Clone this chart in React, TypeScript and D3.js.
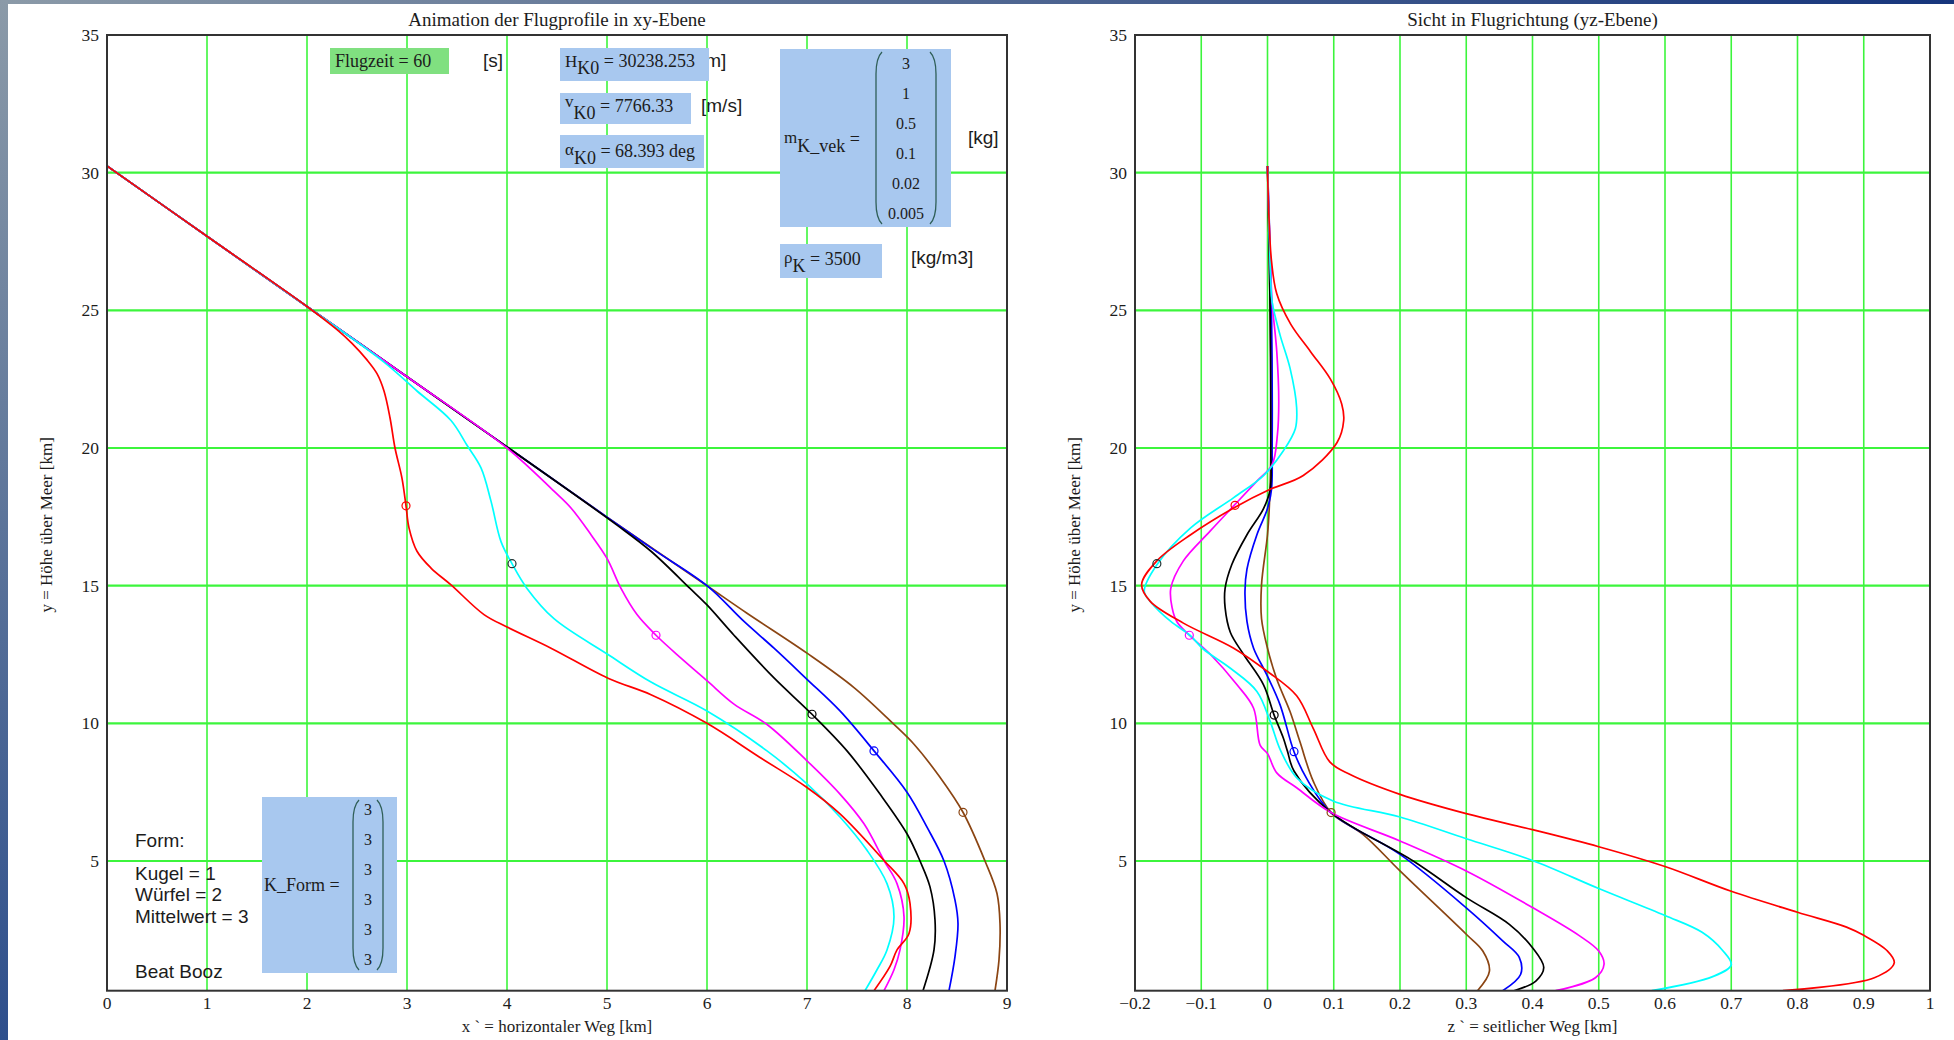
import * as d3 from 'd3'

const W = 1954
const H = 1040

// x-Achse (horizontaler Weg) und z-Achse (seitlicher Weg), Höhe y
const xTicks = [0, 1, 2, 3, 4, 5, 6, 7, 8, 9]
const zTicks = [-0.2, -0.1, 0, 0.1, 0.2, 0.3, 0.4, 0.5, 0.6, 0.7, 0.8, 0.9, 1]
const yTicks = [5, 10, 15, 20, 25, 30, 35]
const yMin = 0.29

// Eingabewerte
const flugzeit = 60
const hK0 = '30238.253'
const vK0 = '7766.33'
const alphaK0 = '68.393 deg'
const rhoK = 3500
const mKvek = ['3', '1', '0.5', '0.1', '0.02', '0.005']
const kForm = ['3', '3', '3', '3', '3', '3']

// Flugprofile xy-Ebene [km]
const redXY = [[0, 30.24], [1, 27.69], [2, 25.14], [2.3, 24.3], [2.45, 23.8], [2.6, 23.2], [2.7, 22.7], [2.77, 22.07], [2.83, 21.1], [2.88, 20.0], [2.95, 18.9], [2.99, 17.9], [3.02, 17.1], [3.1, 16.25], [3.24, 15.64], [3.44, 15.03], [3.77, 13.95], [4.0, 13.5], [4.44, 12.73], [5.01, 11.64], [5.44, 11.04], [6.0, 10.0], [6.53, 8.76], [7.0, 7.67], [7.33, 6.71], [7.77, 5.02], [7.97, 4.18], [8.03, 3.46], [8.02, 2.37], [7.9, 1.77], [7.83, 1.17], [7.67, 0.29]]
const cyanXY = [[0, 30.24], [1, 27.69], [2, 25.14], [2.77, 23.12], [3.1, 22.07], [3.44, 21.0], [3.6, 20.1], [3.74, 19.28], [3.84, 18.07], [3.94, 16.6], [4.05, 15.8], [4.2, 14.9], [4.47, 13.8], [5.01, 12.5], [5.44, 11.5], [6.0, 10.45], [6.6, 9.0], [7.0, 7.8], [7.33, 6.6], [7.6, 5.39], [7.8, 4.18], [7.87, 2.98], [7.8, 1.77], [7.7, 1.05], [7.58, 0.29]]
const magentaXY = [[0, 30.24], [1, 27.69], [2, 25.14], [3, 22.59], [4, 20.0], [4.47, 18.43], [4.64, 17.82], [4.84, 16.85], [5.0, 15.99], [5.14, 14.9], [5.3, 13.95], [5.49, 13.2], [5.74, 12.37], [6.0, 11.55], [6.27, 10.7], [6.6, 9.96], [7.0, 8.64], [7.33, 7.43], [7.57, 6.35], [7.77, 5.02], [7.9, 4.18], [7.97, 2.98], [7.93, 1.77], [7.87, 1.05], [7.77, 0.29]]
const blackXY = [[0, 30.24], [1, 27.69], [2, 25.14], [3, 22.59], [4, 20.04], [5.1, 17.2], [5.44, 16.25], [5.83, 14.9], [6.0, 14.3], [6.27, 13.2], [6.67, 11.65], [7.05, 10.33], [7.4, 9.0], [7.73, 7.43], [8.0, 5.99], [8.13, 5.0], [8.23, 4.06], [8.28, 2.86], [8.27, 1.77], [8.16, 0.29]]
const blueXY = [[0, 30.24], [1, 27.69], [2, 25.14], [3, 22.59], [4, 20.04], [5, 17.49], [5.47, 16.3], [6.0, 15.0], [6.37, 13.7], [6.67, 12.73], [7.0, 11.6], [7.33, 10.45], [7.67, 9.0], [8.0, 7.5], [8.2, 6.23], [8.37, 5.0], [8.48, 3.58], [8.51, 2.73], [8.48, 1.53], [8.42, 0.29]]
const brownXY = [[0, 30.24], [1, 27.69], [2, 25.14], [3, 22.59], [4, 20.04], [5, 17.49], [6.0, 15.0], [6.4, 14.0], [7.0, 12.55], [7.47, 11.3], [7.87, 9.96], [8.07, 9.24], [8.33, 8.04], [8.56, 6.77], [8.78, 5.0], [8.9, 3.82], [8.93, 2.73], [8.92, 1.41], [8.88, 0.29]]

// Sicht in Flugrichtung, z gegen y [km]
const redZY = [[0.0, 30.24], [0.002, 28.5], [0.006, 26.8], [0.014, 25.6], [0.035, 24.5], [0.065, 23.5], [0.095, 22.5], [0.112, 21.6], [0.115, 21.0], [0.105, 20.2], [0.054, 19.0], [0.004, 18.5], [-0.049, 17.85], [-0.116, 16.85], [-0.167, 15.9], [-0.19, 15.04], [-0.177, 14.43], [-0.127, 13.64], [-0.051, 12.73], [-0.001, 11.9], [0.044, 11.0], [0.069, 9.82], [0.094, 8.6], [0.124, 8.15], [0.2, 7.42], [0.3, 6.72], [0.4, 6.14], [0.5, 5.52], [0.6, 4.8], [0.7, 3.9], [0.8, 3.14], [0.874, 2.6], [0.9, 2.3], [0.935, 1.75], [0.946, 1.3], [0.916, 0.76], [0.778, 0.29]]
const cyanZY = [[0.0, 30.24], [0.003, 27.5], [0.005, 26.0], [0.007, 25.3], [0.019, 24.1], [0.034, 22.9], [0.044, 21.46], [0.042, 20.7], [0.024, 19.9], [-0.006, 19.0], [-0.051, 18.2], [-0.116, 17.1], [-0.167, 15.76], [-0.186, 14.8], [-0.176, 14.4], [-0.146, 13.7], [-0.117, 13.2], [-0.097, 12.7], [-0.056, 12.0], [-0.016, 11.16], [0.004, 10.07], [0.02, 9.0], [0.045, 8.0], [0.099, 7.18], [0.2, 6.6], [0.3, 5.81], [0.4, 5.02], [0.5, 4.0], [0.6, 3.02], [0.656, 2.41], [0.687, 1.75], [0.7, 1.23], [0.672, 0.8], [0.58, 0.29]]
const magentaZY = [[0, 30.24], [0.004, 27], [0.007, 25.3], [0.014, 23.5], [0.017, 21.7], [0.015, 20.5], [0.007, 19.4], [-0.016, 18.8], [-0.049, 17.95], [-0.087, 16.97], [-0.127, 15.9], [-0.146, 14.9], [-0.144, 14.2], [-0.137, 13.7], [-0.118, 13.2], [-0.086, 12.5], [-0.046, 11.4], [-0.021, 10.55], [-0.011, 9.2], [0.0, 8.9], [0.014, 8.2], [0.044, 7.66], [0.096, 6.76], [0.2, 5.73], [0.3, 4.64], [0.4, 3.31], [0.47, 2.3], [0.5, 1.73], [0.508, 1.25], [0.495, 0.76], [0.435, 0.29]]
const blackZY = [[0, 30.24], [0.004, 25], [0.005, 20], [0.004, 18.5], [-0.006, 17.8], [-0.031, 16.85], [-0.054, 15.76], [-0.064, 14.9], [-0.064, 14.2], [-0.056, 13.3], [-0.036, 12.5], [-0.006, 11.4], [0.01, 10.3], [0.024, 9.46], [0.03, 9.0], [0.04, 8.27], [0.096, 6.76], [0.22, 5.0], [0.3, 3.67], [0.365, 2.7], [0.4, 1.85], [0.417, 1.13], [0.405, 0.64], [0.372, 0.29]]
const blueZY = [[0, 30.24], [0.006, 25], [0.007, 20], [0.006, 18.5], [0.0, 17.8], [-0.016, 16.85], [-0.031, 15.6], [-0.034, 14.8], [-0.031, 13.7], [-0.021, 12.73], [-0.001, 11.76], [0.019, 10.67], [0.04, 8.97], [0.059, 8.0], [0.096, 6.76], [0.2, 5.24], [0.3, 3.3], [0.355, 2.1], [0.38, 1.5], [0.382, 0.88], [0.355, 0.29]]
const brownZY = [[0, 30.24], [0.004, 25], [0.005, 20], [0.003, 18], [0.0, 16.85], [-0.009, 15.04], [-0.009, 13.8], [0.0, 12.73], [0.014, 11.6], [0.034, 10.43], [0.049, 9.33], [0.069, 7.9], [0.096, 6.76], [0.144, 5.97], [0.2, 4.64], [0.3, 2.34], [0.325, 1.73], [0.335, 1.0], [0.317, 0.29]]

// aktuelle Position bei Flugzeit = 60 s
const markerXY = [[8.56, 6.77], [7.67, 9.0], [7.05, 10.33], [5.49, 13.2], [4.05, 15.8], [2.99, 17.9]]
const markerZY = [[0.096, 6.76], [0.04, 8.97], [0.01, 10.3], [-0.118, 13.2], [-0.167, 15.8], [-0.049, 17.92]]

const lineColors = ['#8b4513', '#0000ff', '#000000', '#ff00ff', '#00ffff', '#ff0000']
const markerColors = ['#8b4513', '#0000ff', '#000000', '#ff00ff', '#223333', '#ff0000']
const profilesXY = [brownXY, blueXY, blackXY, magentaXY, cyanXY, redXY]
const profilesZY = [brownZY, blueZY, blackZY, magentaZY, cyanZY, redZY]

const plotTop = 35
const plotBottom = 990.7
const gridColor = '#3cf53c'
const serif = '"Liberation Serif", "Times New Roman", serif'
const sans = '"Liberation Sans", Arial, sans-serif'
const textColor = '#1c1c1c'

const y = d3.scaleLinear().domain([yMin, 35]).range([plotBottom, plotTop])
const xL = d3.scaleLinear().domain([0, 9]).range([107, 1007])
const zR = d3.scaleLinear().domain([-0.2, 1]).range([1135, 1930])

function Plot({ id, xs, ticks, profiles, markers, title, xLabel, fmt }) {
  const [x0, x1] = xs.range()
  const line = d3.line().x(d => xs(d[0])).y(d => y(d[1])).curve(d3.curveCatmullRom.alpha(0.5))
  const mid = (x0 + x1) / 2
  return (
    <g>
      <clipPath id={id}>
        <rect x={x0} y={plotTop} width={x1 - x0} height={plotBottom - plotTop} />
      </clipPath>
      <rect x={x0} y={plotTop} width={x1 - x0} height={plotBottom - plotTop} fill="#fff" />
      {ticks.map(t => (
        <line key={'v' + t} x1={xs(t)} x2={xs(t)} y1={plotTop} y2={plotBottom} stroke={gridColor} strokeWidth={1.6} />
      ))}
      {yTicks.filter(t => t < 35).map(t => (
        <line key={'h' + t} x1={x0} x2={x1} y1={y(t)} y2={y(t)} stroke={gridColor} strokeWidth={2.2} />
      ))}
      <g clipPath={`url(#${id})`}>
        {profiles.map((p, i) => (
          <path key={i} d={line(p)} fill="none" stroke={lineColors[i]} strokeWidth={1.7} strokeLinejoin="round" />
        ))}
        {markers.map((m, i) => (
          <circle key={i} cx={xs(m[0])} cy={y(m[1])} r={4} fill="none" stroke={markerColors[i]} strokeWidth={1.2} />
        ))}
      </g>
      <rect x={x0} y={plotTop} width={x1 - x0} height={plotBottom - plotTop} fill="none" stroke="#333" strokeWidth={2} />
      {ticks.map(t => (
        <text key={'xl' + t} x={xs(t)} y={1009} textAnchor="middle" fontFamily={serif} fontSize={17.5} fill={textColor}>{fmt(t)}</text>
      ))}
      {yTicks.map(t => (
        <text key={'yl' + t} x={x0 - 8} y={y(t) + 6} textAnchor="end" fontFamily={serif} fontSize={17.5} fill={textColor}>{t}</text>
      ))}
      <text x={mid} y={26} textAnchor="middle" fontFamily={serif} fontSize={19} fill={textColor}>{title}</text>
      <text x={mid} y={1032} textAnchor="middle" fontFamily={serif} fontSize={17} fill={textColor}>{xLabel}</text>
      <text transform={`translate(${x0 - 55},${(plotTop + plotBottom) / 2 + 12}) rotate(-90)`} textAnchor="middle" fontFamily={serif} fontSize={17} fill={textColor}>y = Höhe über Meer [km]</text>
    </g>
  )
}

function Paren({ x, y1, y2, right }) {
  const s = right ? -1 : 1
  const d = `M ${x + 6 * s} ${y1} Q ${x} ${y1 + 6} ${x} ${y1 + 22} L ${x} ${y2 - 22} Q ${x} ${y2 - 6} ${x + 6 * s} ${y2}`
  return <path d={d} fill="none" stroke="#2f5f58" strokeWidth={1.3} />
}

function VarText({ x, base, main, sub, rest, mainDy }) {
  return (
    <text x={x} y={base + mainDy} fontFamily={serif} fill={textColor}>
      <tspan fontSize={17}>{main}</tspan>
      <tspan fontSize={18} dy={7 - mainDy}>{sub}</tspan>
      <tspan fontSize={18} dy={-7}>{rest}</tspan>
    </text>
  )
}

export default function App() {
  const fmtZ = t => (t === 0 ? '0' : t === 1 ? '1' : d3.format('.1f')(t))
  return (
    <svg width={W} height={H} style={{ position: 'absolute', left: 0, top: 0, display: 'block' }}>
      <defs>
        <linearGradient id="leftStrip" x1="0" y1="0" x2="0" y2="1">
          <stop offset="0" stopColor="#8b9aa8" />
          <stop offset="1" stopColor="#2e4f8c" />
        </linearGradient>
        <linearGradient id="topStrip" x1="0" y1="0" x2="1" y2="0">
          <stop offset="0" stopColor="#8b9aa8" />
          <stop offset="1" stopColor="#16357c" />
        </linearGradient>
      </defs>
      <rect width={W} height={H} fill="#fff" />
      <rect x={0} y={0} width={W} height={4} fill="url(#topStrip)" />
      <rect x={0} y={0} width={8} height={H} fill="url(#leftStrip)" />

      <Plot id="clipL" xs={xL} ticks={xTicks} profiles={profilesXY} markers={markerXY}
        title="Animation der Flugprofile in xy-Ebene" xLabel="x ` = horizontaler Weg [km]" fmt={t => String(t)} />
      <Plot id="clipR" xs={zR} ticks={zTicks} profiles={profilesZY} markers={markerZY}
        title="Sicht in Flugrichtung (yz-Ebene)" xLabel="z ` = seitlicher Weg [km]" fmt={fmtZ} />

      {/* Eingaben */}
      <rect x={330} y={48} width={119} height={26} fill="#80e080" />
      <text x={335} y={67} fontFamily={serif} fontSize={18} fill={textColor}>Flugzeit = {flugzeit}</text>
      <text x={483} y={67} fontFamily={sans} fontSize={19} fill={textColor}>[s]</text>

      <text x={700} y={67} fontFamily={sans} fontSize={19} fill={textColor}>[m]</text>
      <rect x={560} y={48} width={149} height={33} fill="#a8c8ef" />
      <VarText x={565} base={67} main="H" sub="K0" rest={` = ${hK0}`} mainDy={0} />

      <rect x={560} y={93} width={131} height={31} fill="#a8c8ef" />
      <VarText x={565} base={112} main="v" sub="K0" rest={` = ${vK0}`} mainDy={-5} />
      <text x={701} y={112} fontFamily={sans} fontSize={19} fill={textColor}>[m/s]</text>

      <rect x={560} y={135} width={144} height={33} fill="#a8c8ef" />
      <VarText x={565} base={157} main="α" sub="K0" rest={` = ${alphaK0}`} mainDy={-2} />

      <rect x={780} y={49} width={171} height={178} fill="#a8c8ef" />
      <VarText x={784} base={145} main="m" sub="K_vek" rest=" =" mainDy={-2} />
      <Paren x={876} y1={52} y2={224} />
      <Paren x={936} y1={52} y2={224} right />
      {mKvek.map((v, i) => (
        <text key={i} x={906} y={69 + i * 30} textAnchor="middle" fontFamily={serif} fontSize={16} fill={textColor}>{v}</text>
      ))}
      <text x={968} y={144} fontFamily={sans} fontSize={19} fill={textColor}>[kg]</text>

      <rect x={780} y={244} width={102} height={34} fill="#a8c8ef" />
      <VarText x={784} base={265} main="ρ" sub="K" rest={` = ${rhoK}`} mainDy={-2} />
      <text x={911} y={264} fontFamily={sans} fontSize={19} fill={textColor}>[kg/m3]</text>

      {/* Form */}
      <text x={135} y={847} fontFamily={sans} fontSize={19} fill={textColor}>Form:</text>
      <text x={135} y={880} fontFamily={sans} fontSize={19} fill={textColor}>Kugel = 1</text>
      <text x={135} y={901} fontFamily={sans} fontSize={19} fill={textColor}>Würfel = 2</text>
      <text x={135} y={923} fontFamily={sans} fontSize={19} fill={textColor}>Mittelwert = 3</text>
      <text x={135} y={978} fontFamily={sans} fontSize={19} fill={textColor}>Beat Booz</text>

      <rect x={262} y={797} width={135} height={176} fill="#a8c8ef" />
      <text x={264} y={891} fontFamily={serif} fontSize={18} fill={textColor}>K_Form =</text>
      <Paren x={353} y1={800} y2={970} />
      <Paren x={383} y1={800} y2={970} right />
      {kForm.map((v, i) => (
        <text key={i} x={368} y={815 + i * 30} textAnchor="middle" fontFamily={serif} fontSize={16} fill={textColor}>{v}</text>
      ))}
    </svg>
  )
}
